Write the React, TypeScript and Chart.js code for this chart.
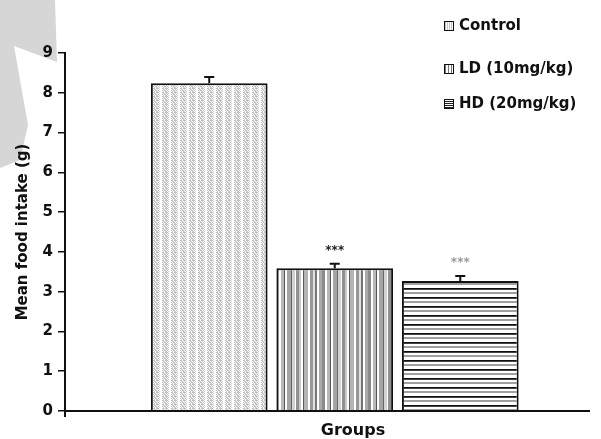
import React, { useEffect, useRef } from "react";
import { Chart, registerables } from "chart.js";

Chart.register(...registerables);

const groups = ["Control", "LD (10mg/kg)", "HD (20mg/kg)"];
const meanIntake = [8.24, 3.59, 3.27];
const errorUp = [0.18, 0.14, 0.15];
const significance = ["", "***", "***"];
const sigColors = ["#222", "#222", "#9a9a9a"];
const yTicks = [0, 1, 2, 3, 4, 5, 6, 7, 8, 9];
const xTitle = "Groups";
const yTitle = "Mean food intake (g)";

const FONT = "'DejaVu Sans', 'Liberation Sans', Arial, sans-serif";
const AXIS_END = 590;

function makeCanvas(w: number, h: number) {
  const c = document.createElement("canvas");
  c.width = w;
  c.height = h;
  return c;
}

function controlPattern(ctx: CanvasRenderingContext2D) {
  const w = 9, h = 4;
  const c = makeCanvas(w, h);
  const g = c.getContext("2d")!;
  g.fillStyle = "#ffffff";
  g.fillRect(0, 0, w, h);
  const rows = [
    [0, 1, 3, 4, 5],
    [1, 2, 4, 6],
    [0, 2, 3, 5],
    [1, 3, 4, 6],
  ];
  rows.forEach((xs, y) => {
    xs.forEach((x) => {
      g.fillStyle = y % 2 === 0 ? "#bcbcbc" : "#cdcdcd";
      g.fillRect(x, y, 1, 1);
    });
  });
  return ctx.createPattern(c, "repeat")!;
}

function ldPattern(ctx: CanvasRenderingContext2D) {
  const stripes: [number, string][] = [
    [3, "#8a8a8a"], [2, "#ffffff"], [3, "#b8b8b8"], [1, "#555555"], [2, "#ffffff"],
    [4, "#a4a4a4"], [1, "#666666"], [3, "#d2d2d2"], [1, "#ffffff"], [3, "#909090"],
    [2, "#c8c8c8"], [2, "#ffffff"], [1, "#5a5a5a"], [4, "#b4b4b4"], [2, "#ffffff"],
    [3, "#989898"], [2, "#e0e0e0"], [2, "#767676"], [2, "#ffffff"], [3, "#aaaaaa"],
  ];
  const w = stripes.reduce((s, t) => s + t[0], 0);
  const c = makeCanvas(w, 4);
  const g = c.getContext("2d")!;
  let x = 0;
  for (const [sw, col] of stripes) {
    g.fillStyle = col;
    g.fillRect(x, 0, sw, 4);
    x += sw;
  }
  return ctx.createPattern(c, "repeat")!;
}

function hdPattern(ctx: CanvasRenderingContext2D) {
  const rows: [number, string][] = [
    [1, "#111111"], [1, "#444444"], [2, "#ffffff"], [2, "#a0a0a0"], [3, "#ffffff"],
  ];
  const h = rows.reduce((s, t) => s + t[0], 0);
  const c = makeCanvas(4, h);
  const g = c.getContext("2d")!;
  let y = 0;
  for (const [rh, col] of rows) {
    g.fillStyle = col;
    g.fillRect(0, y, 4, rh);
    y += rh;
  }
  return ctx.createPattern(c, "repeat")!;
}

const errorPlugin = {
  id: "errorBars",
  beforeDraw(chart: any) {
    const ctx = chart.ctx;
    ctx.save();
    ctx.fillStyle = "#ffffff";
    ctx.fillRect(0, 0, chart.width, chart.height);
    ctx.fillStyle = "#d6d6d6";
    ctx.beginPath();
    ctx.moveTo(0, 0);
    ctx.lineTo(55, 0);
    ctx.lineTo(57, 62);
    ctx.lineTo(14, 46);
    ctx.lineTo(28, 125);
    ctx.lineTo(20, 160);
    ctx.lineTo(0, 168);
    ctx.closePath();
    ctx.fill();
    ctx.restore();
  },
  afterDatasetsDraw(chart: any) {
    const ctx = chart.ctx;
    const yScale = chart.scales.y;
    chart.data.datasets.forEach((ds: any, i: number) => {
      const meta = chart.getDatasetMeta(i);
      const bar = meta.data[0];
      if (!bar) return;
      const v = ds.data[0];
      const top = yScale.getPixelForValue(v + errorUp[i]);
      ctx.save();
      ctx.strokeStyle = "#111";
      ctx.lineWidth = 2;
      ctx.beginPath();
      ctx.moveTo(bar.x, bar.y);
      ctx.lineTo(bar.x, top);
      ctx.moveTo(bar.x - 5, top + 1);
      ctx.lineTo(bar.x + 5, top + 1);
      ctx.stroke();
      if (significance[i]) {
        ctx.fillStyle = sigColors[i];
        ctx.font = `bold 12px ${FONT}`;
        ctx.textAlign = "center";
        ctx.textBaseline = "middle";
        ctx.fillText(significance[i], bar.x, top - 12);
      }
      ctx.restore();
    });
    const area = chart.chartArea;
    ctx.save();
    ctx.strokeStyle = "#111";
    ctx.lineWidth = 2;
    ctx.beginPath();
    ctx.moveTo(area.left - 1, area.bottom);
    ctx.lineTo(AXIS_END, area.bottom);
    ctx.moveTo(area.left, area.bottom);
    ctx.lineTo(area.left, area.bottom + 6);
    ctx.stroke();
    ctx.restore();
  },
};

function swatchStyle(i: number): React.CSSProperties {
  const base: React.CSSProperties = {
    display: "inline-block",
    width: 8,
    height: 8,
    border: "1px solid #111",
    marginRight: 5,
    verticalAlign: "middle",
    boxSizing: "content-box",
  };
  if (i === 0) base.background = "repeating-linear-gradient(90deg, #c8c8c8 0 1px, #fff 1px 2px)";
  if (i === 1) base.background = "repeating-linear-gradient(90deg, #777 0 1px, #fff 1px 3px)";
  if (i === 2) base.background = "repeating-linear-gradient(0deg, #222 0 1px, #fff 1px 2px)";
  return base;
}

export default function App() {
  const ref = useRef<HTMLCanvasElement | null>(null);

  useEffect(() => {
    const canvas = ref.current!;
    const ctx = canvas.getContext("2d")!;
    const fills = [controlPattern(ctx), ldPattern(ctx), hdPattern(ctx)];
    const chart = new Chart(canvas, {
      type: "bar",
      data: {
        labels: [""],
        datasets: groups.map((g, i) => ({
          label: g,
          data: [meanIntake[i]],
          backgroundColor: fills[i] as any,
          borderColor: "#111",
          borderWidth: { top: 2, left: 2, right: 2, bottom: 0 },
          borderSkipped: "bottom",
          categoryPercentage: 0.698,
          barPercentage: 0.93,
        })),
      },
      options: {
        responsive: false,
        animation: false,
        layout: { padding: { left: 14, top: 53, right: 5.5, bottom: 0 } },
        plugins: {
          legend: { display: false },
          tooltip: { enabled: false },
        },
        scales: {
          x: {
            grid: { display: false },
            border: { display: false },
            ticks: { display: false },
            title: { display: false },
            afterFit(scale: any) {
              scale.height = 28;
            },
          },
          y: {
            min: 0,
            max: 9,
            afterBuildTicks(scale: any) {
              scale.ticks = yTicks.map((v) => ({ value: v }));
            },
            grid: {
              drawOnChartArea: false,
              drawTicks: true,
              tickLength: 7,
              color: "#111",
              lineWidth: 1.5,
            },
            border: { display: true, color: "#111", width: 2 },
            ticks: {
              color: "#111",
              padding: 5,
              font: { family: FONT, size: 15, weight: "bold" },
            },
            title: {
              display: true,
              text: yTitle,
              color: "#111",
              font: { family: FONT, size: 15, weight: "bold" },
              padding: 0,
            },
            afterFit(scale: any) {
              scale.width = 51;
            },
          },
        },
      },
      plugins: [errorPlugin],
    });
    return () => chart.destroy();
  }, []);

  const legendTops = [15, 58, 93];

  return (
    <div
      style={{
        position: "absolute",
        left: 0,
        top: 0,
        width: 601,
        height: 439,
        overflow: "hidden",
        background: "#fff",
      }}
    >
      <canvas ref={ref} width={610} height={439} style={{ display: "block" }} />
      {groups.map((g, i) => (
        <div
          key={g}
          style={{
            position: "absolute",
            left: 444,
            top: legendTops[i],
            fontFamily: FONT,
            fontWeight: "bold",
            fontSize: 15,
            color: "#111",
            whiteSpace: "nowrap",
            lineHeight: "20px",
          }}
        >
          <span style={swatchStyle(i)} />
          {g}
        </div>
      ))}
      <div
        style={{
          position: "absolute",
          left: 253,
          width: 200,
          top: 421,
          textAlign: "center",
          fontFamily: FONT,
          fontWeight: "bold",
          fontSize: 16,
          lineHeight: "18px",
          color: "#111",
        }}
      >
        {xTitle}
      </div>
    </div>
  );
}
